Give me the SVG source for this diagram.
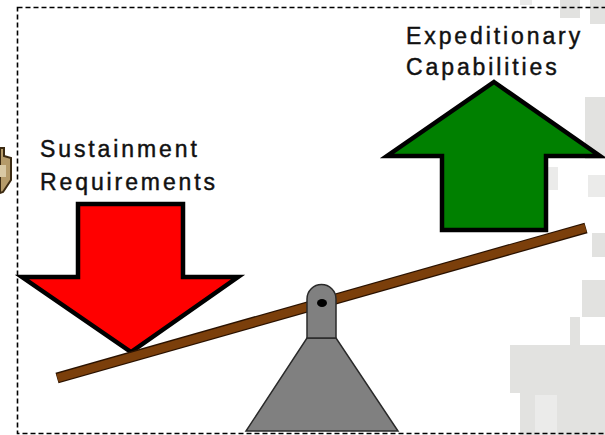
<svg xmlns="http://www.w3.org/2000/svg" width="605" height="435" viewBox="0 0 605 435">
<style>
.lbl{font-family:"Liberation Sans",Arial,sans-serif;font-size:23px;letter-spacing:2.9px;fill:#111;stroke:#111;stroke-width:0.45}
.arrow{stroke:#000;stroke-width:4.5;stroke-linejoin:miter}
.camo{fill:#e2e2e0}
.camo2{fill:#ebebea}
.metal{fill:#808080;stroke:#2a2a2a;stroke-width:1.5}
</style>
<rect width="605" height="435" fill="#fff"/>
<g id="background">
<rect class="camo2" x="520" y="0" width="12" height="5"/>
<rect class="camo" x="560" y="0" width="20" height="18"/>
<rect class="camo" x="590" y="0" width="15" height="24"/>
<rect class="camo" x="585" y="97" width="20" height="62"/>
<rect class="camo2" x="543" y="167" width="15" height="23"/>
<rect class="camo2" x="588" y="175" width="17" height="22"/>
<rect class="camo" x="592" y="233" width="13" height="24"/>
<rect class="camo" x="582" y="280" width="23" height="37"/>
<rect class="camo" x="570" y="317" width="10" height="28"/>
<rect class="camo" x="510" y="345" width="95" height="48"/>
<rect class="camo" x="520" y="393" width="85" height="42"/>
<rect class="camo2" x="535" y="395" width="22" height="40"/>
<path d="M0,148 L4,148 L4,156 L11,158 L11,180 L3,192 L0,193 Z" fill="#b59b6a" stroke="#3b2a12" stroke-width="2"/>
<rect x="0" y="165" width="6" height="12" fill="#d9c9a4"/>
</g>
<rect x="17.5" y="7.5" width="600" height="426" fill="none" stroke="#000" stroke-width="1.6" stroke-dasharray="5,3"/>
<g id="red-arrow">
<polygon class="arrow" fill="#ff0000" points="78,204 183,204 183,277 238,277 131,352 22,277 78,277"/>
</g>
<g id="green-arrow">
<polygon class="arrow" fill="#008000" points="494,82 600,156 546,156 546,230 442,230 442,156 387,156"/>
</g>
<g id="labels">
<text class="lbl" x="40" y="157">Sustainment</text>
<text class="lbl" x="40" y="190">Requirements</text>
<text class="lbl" x="406" y="44">Expeditionary</text>
<text class="lbl" x="406" y="75">Capabilities</text>
</g>
<g id="connectors">
<line x1="57" y1="378" x2="586" y2="228" stroke="#2a1200" stroke-width="11"/>
<line x1="57.5" y1="378" x2="585.5" y2="228" stroke="#7b3f0b" stroke-width="8.5"/>
</g>
<g id="fulcrum">
<polygon class="metal" points="307,338 336,338 398,431 246,431"/>
<path class="metal" d="M307,338 L307,299 A14.5,14.5 0 0 1 336,299 L336,338 Z"/>
<ellipse cx="322" cy="303" rx="5" ry="4" fill="#000"/>
</g>
</svg>
